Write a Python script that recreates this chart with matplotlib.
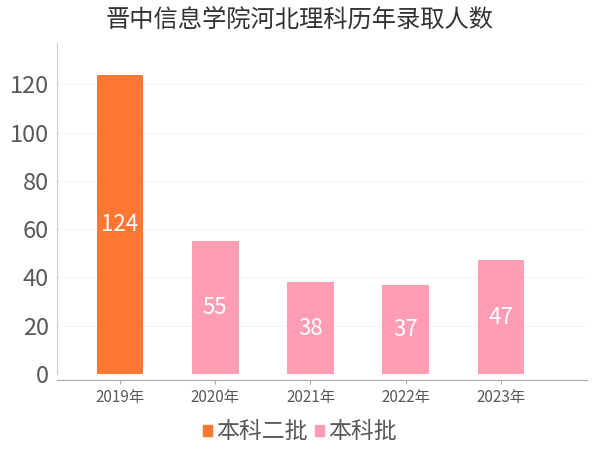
import matplotlib
matplotlib.use('Agg')
import matplotlib.pyplot as plt
from matplotlib.patches import Patch

plt.rcParams['font.family'] = ['Noto Sans CJK SC', 'DejaVu Sans']

years = ['2019年', '2020年', '2021年', '2022年', '2023年']
counts = [124, 55, 38, 37, 47]
batches = ['本科二批', '本科批', '本科批', '本科批', '本科批']
batch_colors = {'本科二批': '#FE7733', '本科批': '#FF9DB5'}

txt = '#595959'

fig = plt.figure(figsize=(6, 4.5), dpi=100)
ax = fig.add_axes([0.095, 0.169, 0.883, 0.735])

x = list(range(len(years)))
colors = [batch_colors[b] for b in batches]
bars = ax.bar(x, counts, width=0.49, color=colors, zorder=2)
for b, v in zip(bars, counts):
    ax.text(b.get_x() + b.get_width() / 2, v / 2, str(v), ha='center', va='center',
            color='white', fontsize=16)

ax.set_xlim(-0.66, 4.9)
ax.set_ylim(0, 137)
ax.set_yticks(range(0, 121, 20))
ax.set_xticks(x)
ax.set_xticklabels(years)
ax.grid(axis='y', color='#f3f3f3', linewidth=0.8, zorder=0)

ax.tick_params(axis='y', length=0, labelsize=17, labelcolor=txt, pad=6)
ax.tick_params(axis='x', length=3, color='#aaaaaa', labelsize=11, labelcolor=txt, pad=4)

for s in ['top', 'right']:
    ax.spines[s].set_visible(False)
ax.spines['left'].set_color('#cccccc')
ax.spines['bottom'].set_color('#aaaaaa')
ax.spines['bottom'].set_position(('outward', 4))

fig.suptitle('晋中信息学院河北理科历年录取人数', y=0.985, fontsize=17.5, color='#333333')

handles = [Patch(color=batch_colors[k]) for k in ['本科二批', '本科批']]
fig.legend(handles, ['本科二批', '本科批'], loc='center', bbox_to_anchor=(0.5, 0.04),
           ncol=2, frameon=False, fontsize=16.5, labelcolor=txt,
           handlelength=0.4, handleheight=0.4, handletextpad=0.2, columnspacing=0.3)

fig.savefig('out.png', dpi=100)
